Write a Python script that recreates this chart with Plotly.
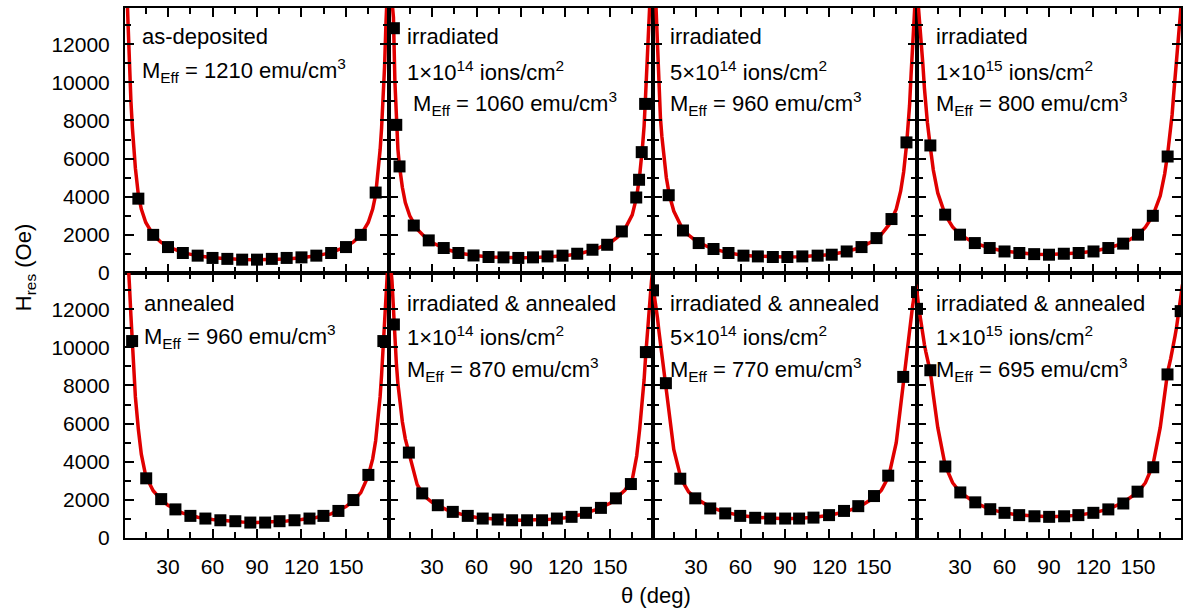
import plotly.graph_objects as go

# ---------------- data ----------------
THETA_RANGE = [1, 179]
H_RANGE = [0, 13900]
X_TICKS = [30, 60, 90, 120, 150]
Y_TICKS = [0, 2000, 4000, 6000, 8000, 10000, 12000]
Y_TICK_TEXT = ["0", "2000", "4000", "6000", "8000", "10000", "12000"]

CURVE_THETA = [0, 1, 2, 3, 4, 5, 6, 7, 8, 10, 12, 15, 20, 25, 30, 40, 50, 60, 70, 80, 90,
               100, 110, 120, 130, 140, 150, 155, 160, 165, 168, 170, 172, 173, 174, 175,
               176, 177, 178, 179, 180]

# panel 1: as-deposited
p1_theta = [10, 20, 30, 40, 50, 60, 70, 80, 90, 100, 110, 120, 130, 140, 150, 160, 170]
p1_h = [3900, 2000, 1360, 1050, 910, 790, 740, 700, 700, 740, 790, 820, 910, 1050, 1360, 2000, 4220]
p1_fit = [18500, 17500, 15500, 13200, 10800, 9000, 7600, 6450, 5500, 4100, 3350, 2650, 2000, 1630,
          1380, 1070, 900, 800, 740, 705, 695,
          705, 740, 800, 900, 1070, 1380, 1630, 2000, 2650, 3350, 4100, 5500, 6450, 7600, 9000,
          10800, 13200, 15500, 17500, 18500]

# panel 2: irradiated 1e14
p2_theta = [4.3, 5.9, 8.1, 17.7, 27.8, 37.9, 47.8, 58, 68.1, 78.2, 88.2, 98.1, 107.9, 118, 127.9,
            138.2, 148.1, 158, 167.7, 169.6, 171.4, 173.7]
p2_h = [12840, 7770, 5590, 2490, 1710, 1310, 1050, 920, 840, 820, 790, 820, 870, 910, 1010, 1220,
        1480, 2180, 3960, 4890, 6340, 8870]
p2_fit = [17000, 16200, 15300, 14400, 13400, 10000, 7600, 6500, 5650, 4500, 3700, 3000, 2300, 1900,
          1600, 1230, 1020, 900, 840, 810, 800,
          810, 840, 900, 1020, 1240, 1580, 1880, 2300, 3050, 4000, 5100, 6700, 7700, 9300, 11500,
          13400, 14400, 15300, 16200, 17000]

# panel 3: irradiated 5e14
p3_theta = [11.6, 21.2, 31.8, 41.8, 51.9, 62, 71.7, 81.8, 91.6, 101.7, 112, 121.5, 131.6, 141.6,
            151.7, 161.8, 171.9]
p3_h = [4080, 2230, 1570, 1260, 1050, 910, 870, 840, 840, 870, 910, 960, 1130, 1360, 1830, 2830, 6850]
p3_fit = [17300, 16500, 15500, 14000, 11600, 9600, 8150, 7150, 6400, 5000, 4100, 3250, 2450, 1990,
          1680, 1300, 1095, 950, 885, 850, 840,
          852, 890, 960, 1100, 1310, 1700, 2030, 2520, 3350, 4300, 5300, 6750, 7600, 8800, 10400,
          12600, 15000, 16500, 17300, 17500]

# panel 4: irradiated 1e15
p4_theta = [10, 20, 30, 40, 50, 60, 70, 80, 90, 100, 110, 120, 130, 140, 150, 160, 170]
p4_h = [6690, 3060, 2010, 1570, 1310, 1130, 1050, 990, 960, 1010, 1050, 1130, 1310, 1540, 2010, 3000, 6110]
p4_fit = [15000, 14600, 13900, 13000, 12000, 10900, 9700, 8700, 7900, 6600, 5400, 4200, 3050, 2420,
          2010, 1560, 1310, 1140, 1050, 990, 965,
          990, 1050, 1140, 1310, 1550, 2000, 2400, 3000, 4050, 5200, 6250, 7500, 8300, 9300, 10400,
          11500, 12600, 13600, 14400, 14900]

# panel 5: annealed
p5_theta = [5.8, 15.3, 25.4, 35, 45.1, 55.2, 65.3, 75.4, 85.5, 95.5, 105.2, 115.3, 125.4, 134.8,
            144.9, 155, 165.1, 175.2]
p5_h = [10330, 3130, 2040, 1500, 1160, 1020, 930, 880, 810, 810, 880, 930, 1020, 1160, 1420, 1990,
        3310, 10330]
p5_fit = [16800, 16800, 16100, 14900, 13250, 11650, 10050, 8550, 7400, 5700, 4400, 3250, 2480, 2040,
          1710, 1300, 1090, 975, 905, 845, 812,
          838, 897, 966, 1075, 1265, 1650, 1960, 2380, 3250, 4150, 5100, 6500, 7400, 8550, 10050,
          11650, 13250, 14900, 16100, 16800]

# panel 6: irradiated & annealed 1e14
p6_theta = [4.3, 14.4, 23.4, 33.9, 44, 54.1, 64.2, 74.3, 84, 94.1, 104.2, 114.2, 124.1, 133.8,
            143.9, 154, 164.1, 174.2]
p6_h = [11200, 4480, 2340, 1720, 1370, 1160, 1020, 970, 930, 930, 930, 1020, 1110, 1320, 1580, 2080,
        2830, 9750]
p6_fit = [15000, 14700, 14300, 13500, 11900, 10400, 9100, 8100, 7300, 6100, 5200, 4250, 2800, 2180,
          1870, 1480, 1240, 1080, 990, 945, 930,
          940, 985, 1065, 1220, 1470, 1820, 2160, 2500, 3050, 4300, 5700, 7300, 8300, 9500, 10600,
          11700, 12650, 13500, 14100, 14400]

# panel 7: irradiated & annealed 5e14
p7_theta = [1.0, 9.7, 19.4, 29.5, 39.6, 49.7, 59.8, 69.9, 80, 90.1, 99.5, 109.2, 119.7, 129.8, 139.4,
            150, 159.6, 169.7, 179]
p7_h = [12990, 8120, 3110, 2080, 1550, 1290, 1160, 1060, 1020, 1020, 1020, 1070, 1200, 1420, 1670,
        2200, 3270, 8450, 12900]
p7_fit = [13200, 13030, 12650, 12150, 11550, 10850, 10200, 9600, 9050, 7860, 6380, 4640, 3090, 2420,
          2070, 1610, 1345, 1185, 1087, 1034, 1015,
          1037, 1092, 1195, 1360, 1630, 2110, 2510, 3240, 5000, 7000, 8530, 9600, 10200, 10850, 11550,
          12150, 12650, 13030, 13200, 13200]

# panel 8: irradiated & annealed 1e15
p8_theta = [1.0, 10, 20.1, 30.2, 40.3, 50.4, 60, 69.9, 80.2, 90.1, 100.2, 109.8, 119.9, 130, 140.1,
            149.7, 160.3, 169.9, 178.8]
p8_h = [12020, 8800, 3750, 2390, 1870, 1510, 1320, 1200, 1140, 1110, 1140, 1200, 1320, 1500, 1810,
        2430, 3710, 8580, 11900]
p8_fit = [13300, 12900, 12200, 11600, 11050, 10600, 10150, 9750, 9400, 8700, 7500, 5800, 3800, 2900,
          2400, 1860, 1510, 1320, 1200, 1140, 1110,
          1140, 1200, 1320, 1510, 1860, 2400, 2900, 3800, 5800, 7500, 8700, 9400, 9750, 10150, 10600,
          11050, 11600, 12200, 12900, 13300]

p1_text = ["as-deposited", "M<sub>Eff</sub> = 1210 emu/cm<sup>3</sup>"]
p2_text = ["irradiated", "1×10<sup>14</sup> ions/cm<sup>2</sup>", " M<sub>Eff</sub> = 1060 emu/cm<sup>3</sup>"]
p3_text = ["irradiated", "5×10<sup>14</sup> ions/cm<sup>2</sup>", "M<sub>Eff</sub> = 960 emu/cm<sup>3</sup>"]
p4_text = ["irradiated", "1×10<sup>15</sup> ions/cm<sup>2</sup>", "M<sub>Eff</sub> = 800 emu/cm<sup>3</sup>"]
p5_text = ["annealed", "M<sub>Eff</sub> = 960 emu/cm<sup>3</sup>"]
p6_text = ["irradiated &amp; annealed", "1×10<sup>14</sup> ions/cm<sup>2</sup>", "M<sub>Eff</sub> = 870 emu/cm<sup>3</sup>"]
p7_text = ["irradiated &amp; annealed", "5×10<sup>14</sup> ions/cm<sup>2</sup>", "M<sub>Eff</sub> = 770 emu/cm<sup>3</sup>"]
p8_text = ["irradiated &amp; annealed", "1×10<sup>15</sup> ions/cm<sup>2</sup>", "M<sub>Eff</sub> = 695 emu/cm<sup>3</sup>"]

X_TITLE = "θ (deg)"
Y_TITLE = "H<sub>res</sub> (Oe)"

# ---------------- layout constants ----------------
W, H = 1183, 609
ML, MR, MT, MB = 125, 0, 8, 71
PW = W - ML - MR
PH = H - MT - MB
FONT = "Liberation Sans, Arial, Helvetica, sans-serif"
RED = "#e00000"

panels = [
    (p1_theta, p1_h, p1_fit, p1_text),
    (p2_theta, p2_h, p2_fit, p2_text),
    (p3_theta, p3_h, p3_fit, p3_text),
    (p4_theta, p4_h, p4_fit, p4_text),
    (p5_theta, p5_h, p5_fit, p5_text),
    (p6_theta, p6_h, p6_fit, p6_text),
    (p7_theta, p7_h, p7_fit, p7_text),
    (p8_theta, p8_h, p8_fit, p8_text),
]

# text placement in pixels (left x, line centre y)
text_x = [140, 406, 669, 936, 142, 406, 669, 936]
line_y_top = [37, 71, 104]
line_y_bot = [303, 336, 369]


def px_to_paper_x(px):
    return (px - ML) / PW


def px_to_paper_y(py):
    return (H - MB - py) / PH


fig = go.Figure()
annotations = []
layout = {}

for k, (th, hv, fit, lines) in enumerate(panels):
    row = k // 4
    col = k % 4
    idx = "" if k == 0 else str(k + 1)
    xa = "x" + idx
    ya = "y" + idx
    fig.add_trace(go.Scatter(x=CURVE_THETA, y=fit, mode="lines", xaxis=xa, yaxis=ya,
                             line=dict(color=RED, width=3.5), showlegend=False, hoverinfo="skip"))
    fig.add_trace(go.Scatter(x=th, y=hv, mode="markers", xaxis=xa, yaxis=ya,
                             marker=dict(symbol="square", size=12, color="black",
                                         line=dict(width=0)),
                             showlegend=False))
    xdom = [col / 4, (col + 1) / 4]
    ydom = [0.5, 1.0] if row == 0 else [0.0, 0.5]
    layout["xaxis" + idx] = dict(
        domain=xdom, anchor=ya, range=THETA_RANGE, tickmode="array", tickvals=X_TICKS,
        ticktext=[str(v) for v in X_TICKS], showticklabels=(row == 1),
        ticks="inside", ticklen=9, tickwidth=2, tickcolor="black",
        mirror="ticks", showline=True, linewidth=2, linecolor="black",
        showgrid=False, zeroline=False, ticklabelstandoff=9,
        tickfont=dict(family=FONT, size=21, color="black"),
        minor=dict(tickmode="linear", tick0=0, dtick=15, ticks="inside", ticklen=6,
                   tickwidth=2, tickcolor="black", showgrid=False),
    )
    layout["yaxis" + idx] = dict(
        domain=ydom, anchor=xa, range=H_RANGE, tickmode="array", tickvals=Y_TICKS,
        ticktext=Y_TICK_TEXT, showticklabels=(col == 0),
        ticks="inside", ticklen=9, tickwidth=2, tickcolor="black",
        mirror="ticks", showline=True, linewidth=2, linecolor="black",
        showgrid=False, zeroline=False, ticklabelstandoff=9,
        tickfont=dict(family=FONT, size=21, color="black"),
        minor=dict(tickmode="linear", tick0=0, dtick=1000, ticks="inside", ticklen=6,
                   tickwidth=2, tickcolor="black", showgrid=False),
    )
    ys = line_y_top if row == 0 else line_y_bot
    for j, t in enumerate(lines):
        annotations.append(dict(
            text=t, x=px_to_paper_x(text_x[k]), y=px_to_paper_y(ys[j]),
            xref="paper", yref="paper", xanchor="left", yanchor="middle", showarrow=False,
            font=dict(family=FONT, size=22, color="black"),
        ))

annotations.append(dict(text=X_TITLE, x=px_to_paper_x(657), y=px_to_paper_y(595),
                        xref="paper", yref="paper", xanchor="center", yanchor="middle",
                        showarrow=False, font=dict(family=FONT, size=22, color="black")))
annotations.append(dict(text=Y_TITLE, x=px_to_paper_x(25), y=px_to_paper_y(268),
                        xref="paper", yref="paper", xanchor="center", yanchor="middle",
                        textangle=-90, showarrow=False,
                        font=dict(family=FONT, size=22, color="black")))

fig.update_layout(
    width=W, height=H, margin=dict(l=ML, r=MR, t=MT, b=MB, pad=0),
    paper_bgcolor="white", plot_bgcolor="white", annotations=annotations,
    font=dict(family=FONT, color="black"), **layout,
)

fig.write_html("out.html", config={"displayModeBar": False},
               post_script="document.body.style.margin='0px';document.body.style.overflow='hidden';")
